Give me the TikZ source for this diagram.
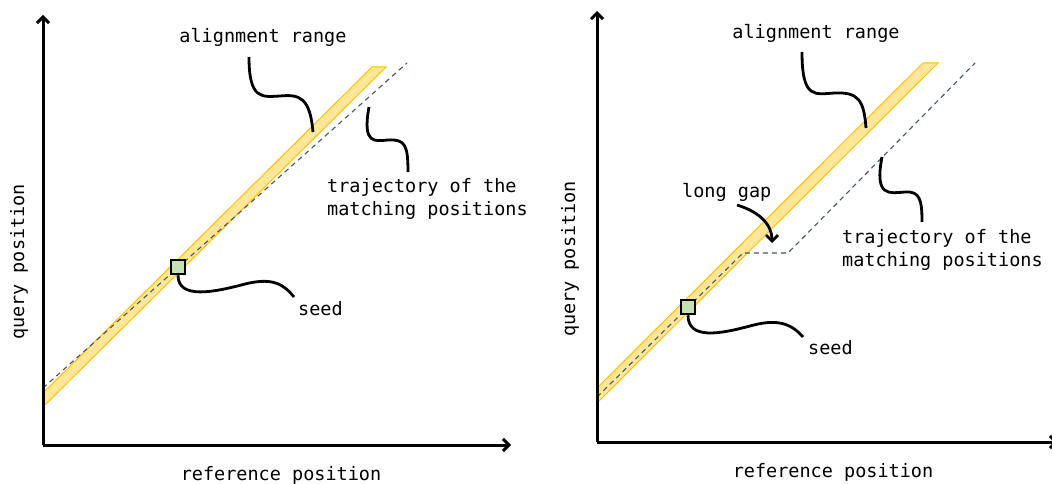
\documentclass[tikz,border=0pt]{standalone}
\usepackage{fontspec}
\setmonofont{DejaVu Sans Mono}
\usepackage{tikz}
\usetikzlibrary{positioning, arrows.meta}

\definecolor{bandfill}{HTML}{FFE699}
\definecolor{bandline}{HTML}{FFC000}
\definecolor{trackgray}{HTML}{44546A}
\definecolor{seedfill}{HTML}{C5E0B4}

\begin{document}
\begin{tikzpicture}[
    x=1pt, y=-1pt,
    >={Straight Barb[length=6pt, width=12pt]},
    axisline/.style={->, draw=black, line width=3pt},
    band/.style={fill=bandfill, draw=bandline, line width=1pt},
    track/.style={draw=trackgray, line width=1.1pt, dash pattern=on 5pt off 4pt},
    callout/.style={draw=black, line width=2.8pt},
    txt/.style={font=\ttfamily\fontsize{18.5}{23}\selectfont, inner sep=0pt},
    seedbox/.style={draw=black, fill=seedfill, line width=2.5pt, minimum size=14pt, inner sep=0pt}
]
\useasboundingbox (0,0) rectangle (1052,484);

% ---------------- left panel ----------------
\coordinate (oL) at (43,445);
\coordinate (yL) at (43,15);
\coordinate (xL) at (511,445);

% Alignment range band
\fill[band] (43,393) -- (372,67) -- (386,67) -- (43,407) -- cycle;

% Trajectory of the matching positions
\draw[track] (43,388) -- (407,63);

% Axes
\draw[axisline] (oL) -- (yL);
\draw[axisline] (oL) -- (xL);

% Seed
\node[seedbox] (seedL) at (178,267) {};

% Labels
\node[txt, anchor=base] (alignL) at (263,43) {alignment range};
\node[txt, anchor=base west, align=left] (trajL) at (327,215) {trajectory of the\\matching positions};
\node[txt, anchor=base west] (seedtxtL) at (298,315) {seed};
\node[txt, anchor=base] (refL) at (281,480) {reference position};
\node[txt, rotate=90] (queryL) at (19,262) {query position};

% Callouts
\coordinate (alignendL) at (313,132);
\coordinate (alignstartL) at (249,57);
\draw[callout] (alignstartL) .. controls (249,100) and (262,97) .. (280,96)
    .. controls (300,94) and (310,98) .. (alignendL);
\coordinate (trajstartL) at (369,107);
\coordinate (trajendL) at (408,172);
\draw[callout] (trajstartL) .. controls (362,145) and (375,141) .. (388,140)
    .. controls (405,139) and (408,145) .. (trajendL);
\coordinate (seedendL) at (294,297);
\draw[callout] (seedL.south) .. controls (178,300) and (215,292) .. (245,284)
    .. controls (270,278) and (282,282) .. (seedendL);

% ---------------- right panel ----------------
\coordinate (oR) at (597,442);
\coordinate (yR) at (597,11);
\coordinate (xR) at (1058,442);

% Alignment range band
\fill[band] (597,388) -- (923,63) -- (938,63) -- (597,403) -- cycle;

% Trajectory with a long gap
\draw[track] (597,397) -- (743,253) -- (788,253) -- (975,63);

% Axes
\draw[axisline] (oR) -- (yR);
\draw[axisline] (oR) -- (xR);

% Seed
\node[seedbox] (seedR) at (688,307) {};

% Labels
\node[txt, anchor=base] (alignR) at (816,39) {alignment range};
\node[txt, anchor=base west] (gapR) at (682,197) {long gap};
\node[txt, anchor=base west, align=left] (trajR) at (842,266) {trajectory of the\\matching positions};
\node[txt, anchor=base west] (seedtxtR) at (808,354) {seed};
\node[txt, anchor=base] (refR) at (833,477) {reference position};
\node[txt, rotate=90] (queryR) at (570,259) {query position};

% Callouts
\coordinate (alignstartR) at (802,52);
\coordinate (alignendR) at (866,128);
\draw[callout] (alignstartR) .. controls (802,100) and (815,94) .. (835,93)
    .. controls (858,92) and (864,100) .. (alignendR);
\coordinate (trajstartR) at (882,157);
\coordinate (trajendR) at (922,222);
\draw[callout] (trajstartR) .. controls (874,198) and (890,193) .. (905,192)
    .. controls (920,191) and (922,200) .. (trajendR);
\coordinate (seedendR) at (803,337);
\draw[callout] (seedR.south) .. controls (688,340) and (720,334) .. (750,326)
    .. controls (775,319) and (790,322) .. (seedendR);
\coordinate (gapstartR) at (737,205);
\coordinate (gapendR) at (772,243);
\draw[callout, ->] (gapstartR) .. controls (760,212) and (772,225) .. (gapendR);

\end{tikzpicture}
\end{document}
